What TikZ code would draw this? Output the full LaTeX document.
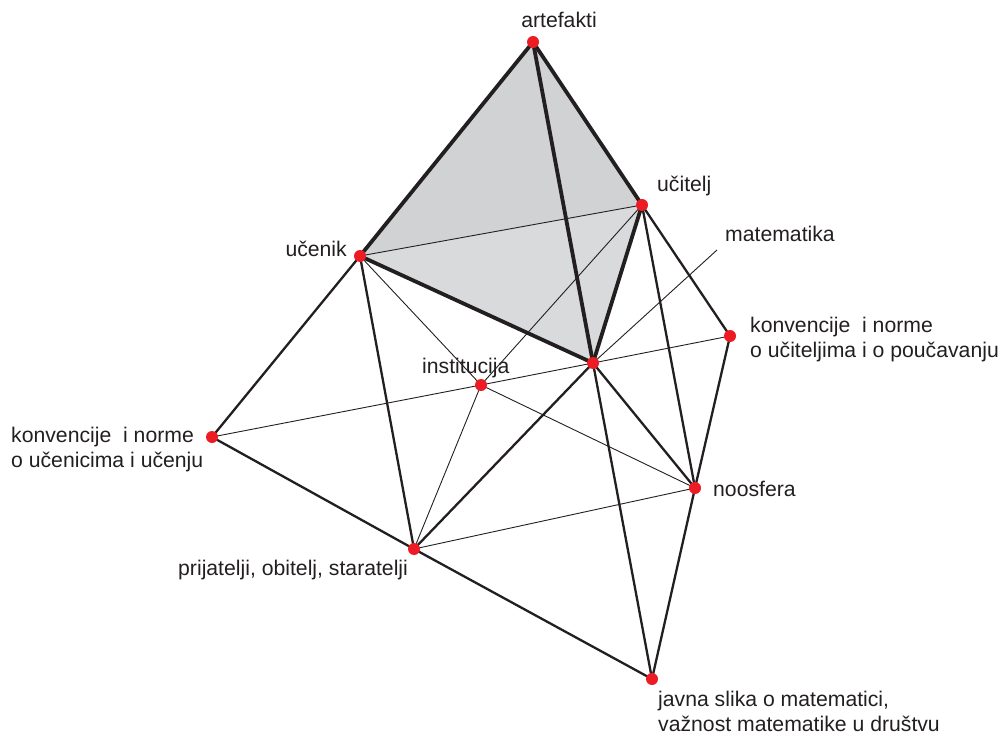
\documentclass[tikz,border=0pt]{standalone}
\usepackage{fontspec}
\setmainfont{Liberation Sans}
\usetikzlibrary{backgrounds}
\definecolor{dotred}{RGB}{237,28,36}
\definecolor{ink}{RGB}{35,31,32}
\definecolor{faceup}{RGB}{209,210,212}
\definecolor{facelow}{RGB}{217,218,220}
\begin{document}
\begin{tikzpicture}[x=1pt, y=-1pt,
    dot/.style={circle, fill=dotred, inner sep=0pt, minimum size=12pt},
    lbl/.style={font=\fontsize{21.2}{25}\selectfont, text=ink, inner sep=0pt,
      align=left, anchor=base west},
    heavy/.style={draw=ink, line width=3.8pt, line join=round},
    edge/.style={draw=ink, line width=2.3pt},
    fine/.style={draw=ink, line width=0.9pt},
  ]
    \useasboundingbox (0,0) rectangle (1001,735);

    % Points
    \node[dot] (art)   at (533,42)  {};
    \node[dot] (ucit)  at (642,205) {};
    \node[dot] (ucen)  at (360,256) {};
    \node[dot] (mat)   at (593,363) {};
    \node[dot] (inst)  at (481,385) {};
    \node[dot] (konvl) at (212,437) {};
    \node[dot] (konvr) at (730,336) {};
    \node[dot] (noos)  at (695,488) {};
    \node[dot] (prij)  at (414,549) {};
    \node[dot] (javna) at (652,679) {};
    \coordinate (matlbl) at (717,250);

    % Labels (base = last line)
    \node[lbl, anchor=base] (tart) at (559,28) {artefakti};
    \node[lbl] (tucit)  at (657,192) {učitelj};
    \node[lbl, anchor=base east] (tucen) at (347,257) {učenik};
    \node[lbl] (tmat)   at (725,242) {matematika};
    \node[lbl] (tinst)  at (422,373) {institucija};
    \node[lbl] (tkonvl) at (11,467)  {konvencije\ \ i norme\\o učenicima i učenju};
    \node[lbl] (tkonvr) at (750,357) {konvencije\ \ i norme\\o učiteljima i o poučavanju};
    \node[lbl] (tnoos)  at (713,496) {noosfera};
    \node[lbl] (tprij)  at (178,575) {prijatelji, obitelj, staratelji};
    \node[lbl] (tjavna) at (658,731) {javna slika o matematici,\\važnost matematike u društvu};

    \begin{pgfonlayer}{background}
      % Faces
      \fill[faceup]  (art.center) -- (ucen.center) -- (ucit.center) -- cycle;
      \fill[facelow] (ucen.center) -- (ucit.center) -- (mat.center) -- cycle;

      % Thin lines
      \draw[fine] (ucen.center) -- (ucit.center);
      \draw[fine] (ucit.center) -- (inst.center) -- (prij.center);
      \draw[fine] (ucen.center) -- (inst.center) -- (noos.center);
      \draw[fine] (konvl.center) -- (inst.center) -- (mat.center) -- (konvr.center);
      \draw[fine] (prij.center) -- (noos.center);
      \draw[fine] (mat.center) -- (matlbl);

      % Outer lines
      \draw[edge] (ucen.center) -- (konvl.center) -- (prij.center) -- (javna.center);
      \draw[edge] (ucen.center) -- (prij.center) -- (mat.center);
      \draw[edge] (mat.center) -- (noos.center);
      \draw[edge] (mat.center) -- (javna.center);
      \draw[edge] (ucit.center) -- (noos.center);
      \draw[edge] (ucit.center) -- (konvr.center) -- (noos.center) -- (javna.center);

      % Tetrahedron
      \draw[heavy] (ucen.center) -- (art.center) -- (ucit.center);
      \draw[heavy] (ucen.center) -- (mat.center) -- (ucit.center);
      \draw[heavy] (art.center) -- (mat.center);
    \end{pgfonlayer}
\end{tikzpicture}
\end{document}
